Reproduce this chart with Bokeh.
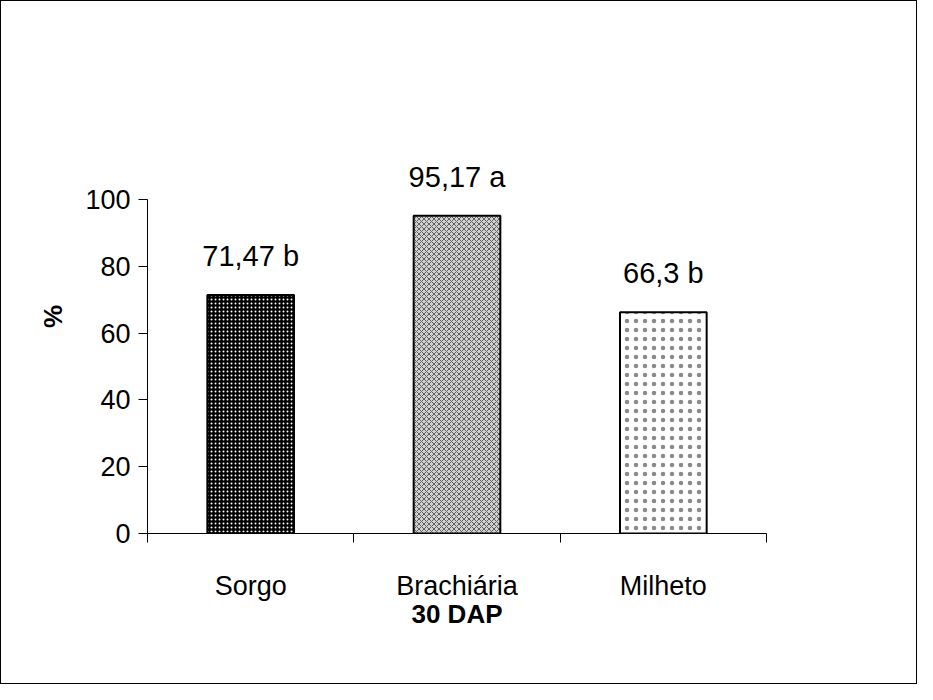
from bokeh.plotting import figure
from bokeh.models import Range1d, FixedTicker, ColumnDataSource
from bokeh.embed import file_html
from bokeh.resources import INLINE
from bokeh.core.properties import value

# ---- data ----
categories = ["Sorgo", "Brachiária", "Milheto"]
values = [71.47, 95.17, 66.3]
letters = ["b", "a", "b"]
y_ticks = [0, 20, 40, 60, 80, 100]
x_title = "30 DAP"
y_title = "%"

FONT = "Liberation Sans"

centers = [i + 0.5 for i in range(len(categories))]
labels = [f"{str(v).replace('.', ',')} {l}" for v, l in zip(values, letters)]

fills = ["black", "#d0d0d0", "white"]
hatch_colors = ["white", "#606060", "#8a8a8a"]
hatch_patterns = ["dot", "diagonal_cross", "dot"]
hatch_scales = [4, 5, 9]

src = ColumnDataSource(dict(x=centers, top=values, label=labels, fill=fills,
                            hc=hatch_colors, hp=hatch_patterns, hs=hatch_scales))

p = figure(width=917, height=684, output_backend="svg", toolbar_location=None,
           x_range=Range1d(0, len(categories)), y_range=Range1d(0, 130),
           min_border_left=146, min_border_right=152, min_border_top=98, min_border_bottom=152)
p.styles = {"border": "1px solid black", "box-sizing": "border-box"}
p.outline_line_color = None
p.xgrid.visible = False
p.ygrid.visible = False
p.background_fill_color = "white"
p.border_fill_color = "white"

p.vbar(x="x", top="top", width=0.42, bottom=0, source=src,
       fill_color="fill", line_color="black", line_width=2,
       hatch_pattern="hp", hatch_color="hc", hatch_scale="hs", hatch_weight=1)

p.text(x="x", y="top", text="label", source=src, y_offset=-39,
       text_align="center", text_baseline="alphabetic",
       text_font=value(FONT), text_font_size="29px", text_color="black")

# y axis
ya = p.yaxis[0]
ya.bounds = (0, 100)
ya.ticker = FixedTicker(ticks=y_ticks, minor_ticks=[])
ya.major_tick_out = 9
ya.major_tick_in = 0
ya.axis_line_color = "black"
ya.major_tick_line_color = "black"
ya.major_label_text_font = FONT
ya.major_label_text_font_size = "27px"
ya.major_label_text_color = "black"
ya.major_label_standoff = 8
ya.axis_label = y_title
ya.axis_label_text_font = FONT
ya.axis_label_text_font_style = "bold"
ya.axis_label_text_font_size = "26px"
ya.axis_label_text_color = "black"
ya.axis_label_standoff = 14

# x axis
xa = p.xaxis[0]
xa.bounds = (0, len(categories))
xa.ticker = FixedTicker(ticks=centers, minor_ticks=list(range(len(categories) + 1)))
xa.major_label_overrides = {c: n for c, n in zip(centers, categories)}
xa.major_tick_out = 0
xa.major_tick_in = 0
xa.minor_tick_out = 9
xa.minor_tick_in = 0
xa.axis_line_color = "black"
xa.minor_tick_line_color = "black"
xa.major_label_text_font = FONT
xa.major_label_text_font_size = "27px"
xa.major_label_text_color = "black"
xa.major_label_standoff = 28
xa.axis_label = x_title
xa.axis_label_text_font = FONT
xa.axis_label_text_font_style = "bold"
xa.axis_label_text_font_size = "26px"
xa.axis_label_text_color = "black"
xa.axis_label_standoff = -5

open("out.html", "w").write(file_html(p, INLINE))
